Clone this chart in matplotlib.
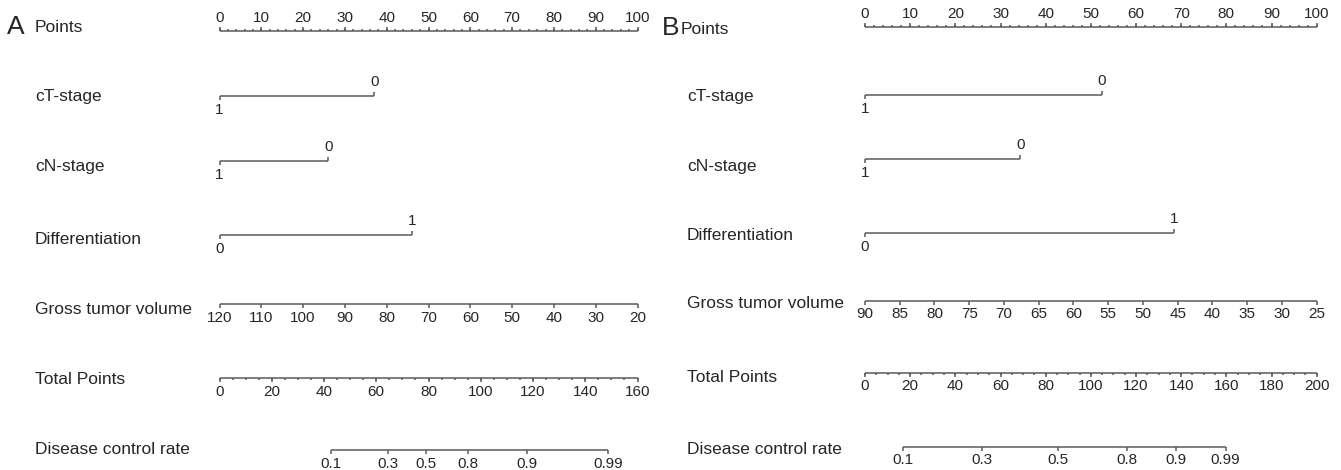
import numpy as np
import matplotlib
matplotlib.use('Agg')
import matplotlib.pyplot as plt
from matplotlib.transforms import blended_transform_factory

plt.rcParams['font.family'] = ['Liberation Sans', 'DejaVu Sans']

W, H = 1341, 470
LINE = '#5a5a5a'
TXT = '#262626'

row_names = ['Points', 'cT-stage', 'cN-stage', 'Differentiation',
             'Gross tumor volume', 'Total Points', 'Disease control rate']

# ---- panel A values (points scale 0-100) ----
ct_A = {'1': 0.0, '0': 37.0}
cn_A = {'1': 0.0, '0': 26.0}
diff_A = {'0': 0.0, '1': 46.0}
gtv_vals_A = [120, 110, 100, 90, 80, 70, 60, 50, 40, 30, 20]
total_max_A = 160
total_ticks_A = [0, 20, 40, 60, 80, 100, 120, 140, 160]
dcr_labels_A = ['0.1', '0.3', '0.5', '0.8', '0.9', '0.99']
dcr_total_A = [42.8, 64.6, 79.2, 95.0, 117.6, 148.6]

# ---- panel B values ----
ct_B = {'1': 0.0, '0': 52.4}
cn_B = {'1': 0.0, '0': 34.4}
diff_B = {'0': 0.0, '1': 68.4}
gtv_vals_B = [90, 85, 80, 75, 70, 65, 60, 55, 50, 45, 40, 35, 30, 25]
total_max_B = 200
total_ticks_B = [0, 20, 40, 60, 80, 100, 120, 140, 160, 180, 200]
dcr_labels_B = ['0.1', '0.3', '0.5', '0.8', '0.9', '0.99']
dcr_total_B = [16.7, 51.9, 85.6, 116.0, 137.6, 159.7]

fig = plt.figure(figsize=(W / 100, H / 100), dpi=100)


def seg(ax, x, y):
    ax.plot(x, y, color=LINE, lw=1.1, solid_capstyle='butt', clip_on=False)


def scale(ax, pos, labels, y, up, minor=None, fs=11):
    # axis line with ticks and labels; up=True -> labels above
    d = -1 if up else 1
    seg(ax, [min(pos), max(pos)], [y, y])
    if minor is not None:
        for p in minor:
            seg(ax, [p, p], [y, y + d * 2])
    for p, lab in zip(pos, labels):
        seg(ax, [p, p], [y, y + d * 4])
        ax.text(p, y + d * 13.5, lab, ha='center', va='center',
                fontsize=fs, color=TXT)


def category(ax, lev, y):
    (la, pa), (lb, pb) = lev.items()
    seg(ax, [pa, pb], [y, y])
    seg(ax, [pa, pa], [y, y + 4])
    seg(ax, [pb, pb], [y, y - 4])
    ax.text(pa, y + 14, la, ha='center', va='center', fontsize=11, color=TXT)
    ax.text(pb, y - 14, lb, ha='center', va='center', fontsize=11, color=TXT)


def panel(x0, x1, letter, lx, px, letter_x, lines, labels_y, ct, cn, diff,
          gtv_vals, total_max, total_ticks, dcr_labels, dcr_total):
    ax = fig.add_axes([x0 / W, 0, (x1 - x0) / W, 1])
    ax.set_xlim(0, 100)
    ax.set_ylim(H, 0)
    ax.axis('off')
    tr = blended_transform_factory(fig.transFigure, ax.transData)

    for i, (name, yy) in enumerate(zip(row_names, labels_y)):
        xx = px if i == 0 else lx
        ax.text(xx / W, yy, name, transform=tr, ha='left', va='center',
                fontsize=12.5, color=TXT)
    ax.text(letter_x / W, labels_y[0] - 1, letter, transform=tr, ha='left',
            va='center', fontsize=19, color=TXT)

    # points axis
    pts = np.arange(0, 101, 10)
    scale(ax, pts, [str(p) for p in pts], lines[0], True,
          minor=np.arange(0, 101, 2))
    category(ax, ct, lines[1])
    category(ax, cn, lines[2])
    category(ax, diff, lines[3])
    # gross tumor volume: linear, reversed
    g0, g1 = gtv_vals[0], gtv_vals[-1]
    gpos = [(g0 - v) / (g0 - g1) * 100 for v in gtv_vals]
    scale(ax, gpos, [str(v) for v in gtv_vals], lines[4], False)
    # total points
    k = 100 / total_max
    scale(ax, [t * k for t in total_ticks], [str(t) for t in total_ticks],
          lines[5], False, minor=np.arange(0, total_max + 1, 5) * k)
    # disease control rate
    scale(ax, [t * k for t in dcr_total], dcr_labels, lines[6], False)


panel(219.5, 637.5, 'A', 35, 35, 7,
      [31, 96, 161, 235, 304, 378, 450],
      [28, 97, 167, 239, 309, 380, 450],
      ct_A, cn_A, diff_A, gtv_vals_A, total_max_A, total_ticks_A,
      dcr_labels_A, dcr_total_A)

panel(865, 1316.7, 'B', 687, 681, 662,
      [27, 95, 159, 233, 301, 373, 447],
      [29, 97, 166, 236, 304, 378, 449],
      ct_B, cn_B, diff_B, gtv_vals_B, total_max_B, total_ticks_B,
      dcr_labels_B, dcr_total_B)

fig.savefig('out.png', dpi=100)
